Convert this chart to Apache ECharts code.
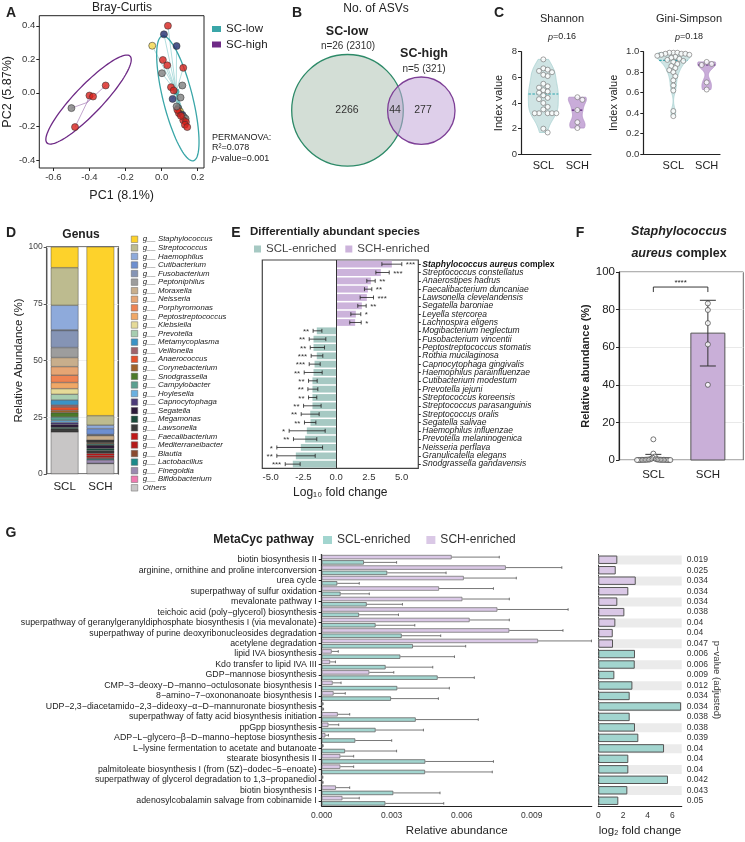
<!DOCTYPE html>
<html>
<head>
<meta charset="utf-8">
<script src="https://cdn.jsdelivr.net/npm/echarts@6.0.0/dist/echarts.min.js"></script>
<style>html,body{margin:0;padding:0;background:#fff}#chart{width:745px;height:842px}</style>
</head>
<body>
<div id="chart"></div>
<script>
// ---------- A: PCoA, Bray-Curtis ----------
var lowPC1 = [0.035,0.013,-0.052,0.083,0.007,0.031,0.120,0.002,0.052,0.067,0.115,0.061,0.105,0.092,0.102,0.096,0.115,0.124,0.133,0.120,0.135,0.129,0.142,0.087,0.107,0.083];
var lowPC2 = [0.400,0.349,0.281,0.279,0.196,0.164,0.149,0.117,0.034,0.014,0.044,-0.036,-0.028,-0.091,-0.111,-0.121,-0.131,-0.145,-0.154,-0.164,-0.174,-0.190,-0.204,-0.101,-0.137,-0.081];
var lowSite = ['r','n','y','n','r','r','r','g','r','r','g','n','g','g','y','r','n','g','g','r','r','r','r','r','r','g'];
var highPC1 = [-0.31,-0.40,-0.38,-0.50,-0.48];
var highPC2 = [0.044,-0.016,-0.022,-0.091,-0.204];
var highSite = ['r','r','r','g','r'];
var ellipseLow = {cx:0.09, cy:-0.033, ux:-0.086, uy:0.372, vx:0.08, vy:0.019};
var ellipseHigh = {cx:-0.405, cy:-0.04, ux:0.229, uy:0.26, vx:0.06, vy:-0.053};

// ---------- B: Venn ----------
var vennLowOnly = 2266, vennShared = 44, vennHighOnly = 277;
var nLow = 26, nHigh = 5;

// ---------- C: alpha diversity ----------
var shannonSCL = [7.4,6.7,6.6,6.5,6.4,6.2,6.1,5.5,5.3,5.2,5.0,4.9,4.8,4.6,4.4,4.3,4.0,3.7,3.5,3.2,3.2,3.2,3.2,3.2,2.0,1.7];
var shannonSCH = [4.45,4.25,3.45,2.5,2.05];
var giniSCL = [0.99,0.99,0.99,0.98,0.98,0.98,0.97,0.97,0.96,0.95,0.94,0.93,0.92,0.91,0.90,0.88,0.86,0.84,0.82,0.80,0.76,0.72,0.67,0.62,0.42,0.37];
var giniSCH = [0.90,0.88,0.87,0.70,0.63];

// ---------- D: genus composition ----------
var genusNames = ['g__ Staphylococcus','g__ Streptococcus','g__ Haemophilus','g__ Cutibacterium','g__ Fusobacterium','g__ Peptoniphilus','g__ Moraxella','g__ Neisseria','g__ Porphyromonas','g__ Peptostreptococcus','g__ Klebsiella','g__ Prevotella','g__ Metamycoplasma','g__ Veillonella','g__ Anaerococcus','g__ Corynebacterium','g__ Snodgrassella','g__ Campylobacter','g__ Hoylesella','g__ Capnocytophaga','g__ Segatella','g__ Megamonas','g__ Lawsonella','g__ Faecalibacterium','g__ Mediterraneibacter','g__ Blautia','g__ Lactobacillus','g__ Finegoldia','g__ Bifidobacterium','Others'];
var genusSCL = [9.1,16.6,10.8,0.3,7.5,4.4,4.0,3.8,3.2,2.7,2.5,2.5,2.2,0.9,1.5,1.0,1.9,1.5,0.9,0.9,1.2,0.7,0.7,0.1,0.1,0.1,0.1,0.1,0.1,18.6];
var genusSCH = [74.4,4.2,1.5,2.6,0.2,0.3,2.0,0.1,0.1,0.1,0.1,0.1,0.1,0.3,0.1,0.5,0.1,0.6,0.1,0.1,1.2,1.0,1.2,1.0,1.0,0.4,0.5,1.5,0.1,4.6];
var genusColors = ['#fdd22b','#bdbb8f','#8eaadb','#6d8fd0','#8594b5','#9d9d9d','#c8ae8c','#e6a574','#ee8352','#f0a766','#e5da98','#a7cdb0','#3a93c6','#a0636b','#e5512b','#a0622a','#4c7a2a','#5aa090','#6ab0e0','#4b3a78','#2d1a3a','#1a4a3a','#3a3a3a','#c01818','#b51a1a','#8a4a30','#1a8a8a','#9a8ab0','#f07ab0','#c8c6c6'];

// ---------- E: differentially abundant species ----------
var species = ['Staphylococcus aureus complex','Streptococcus constellatus','Anaerostipes hadrus','Faecalibacterium duncaniae','Lawsonella clevelandensis','Segatella baroniae','Leyella stercorea','Lachnospira eligens','Mogibacterium neglectum','Fusobacterium vincentii','Peptostreptococcus stomatis','Rothia mucilaginosa','Capnocytophaga gingivalis','Haemophilus parainfluenzae','Cutibacterium modestum','Prevotella jejuni','Streptococcus koreensis','Streptococcus parasanguinis','Streptococcus oralis','Segatella salivae','Haemophilus influenzae','Prevotella melaninogenica','Neisseria perflava','Granulicatella elegans','Snodgrassella gandavensis'];
var speciesLfc = [4.25,3.41,2.65,2.42,2.34,1.96,1.50,1.45,-1.48,-1.73,-1.73,-1.48,-1.65,-1.73,-1.81,-1.81,-1.81,-1.81,-1.98,-1.96,-2.24,-2.37,-2.70,-3.08,-3.31];
var speciesLo = [3.49,3.03,2.34,2.16,1.83,1.65,1.12,1.04,-1.76,-2.06,-1.98,-1.91,-2.06,-2.44,-2.11,-2.16,-2.11,-2.49,-2.67,-2.42,-3.59,-3.26,-4.53,-4.53,-3.89];
var speciesHi = [5.01,4.05,2.98,2.72,2.85,2.29,1.88,1.91,-1.09,-0.79,-0.89,-1.02,-1.22,-1.07,-1.45,-1.40,-1.48,-1.15,-1.30,-1.55,-0.84,-1.48,-1.04,-1.60,-2.75];
var speciesStars = ['***','***','**','**','***','**','*','*','**','**','**','***','***','**','**','**','**','**','**','**','*','**','*','**','***'];

// ---------- F: S. aureus complex abundance ----------
var staphSCL = [11,3.4,1.8,1.2,0.6,0.4,0.3,0.3,0.2,0.2,0.2,0.1,0.1,0.1,0.1,0.1,0.05,0.05,0.05,0.05,0,0,0,0,0,0];
var staphSCH = [83.3,79.8,72.8,61.5,40.0];
var staphSig = '****';

// ---------- G: MetaCyc pathways ----------
var pathways = ['biotin biosynthesis II','arginine, ornithine and proline interconversion','urea cycle','superpathway of sulfur oxidation','mevalonate pathway I','teichoic acid (poly\u2212glycerol) biosynthesis','superpathway of geranylgeranyldiphosphate biosynthesis I (via mevalonate)','superpathway of purine deoxyribonucleosides degradation','acetylene degradation','lipid IVA biosynthesis','Kdo transfer to lipid IVA III','GDP\u2212mannose biosynthesis','CMP\u22123\u2212deoxy\u2212D\u2212manno\u2212octulosonate biosynthesis I','8\u2212amino\u22127\u2212oxononanoate biosynthesis I','UDP\u22122,3\u2212diacetamido\u22122,3\u2212dideoxy\u2212\u03b1\u2212D\u2212mannuronate biosynthesis','superpathway of fatty acid biosynthesis initiation','ppGpp biosynthesis','ADP\u2212L\u2212glycero\u2212\u03b2\u2212D\u2212manno\u2212heptose biosynthesis','L\u2212lysine fermentation to acetate and butanoate','stearate biosynthesis II','palmitoleate biosynthesis I (from (5Z)\u2212dodec\u22125\u2212enoate)','superpathway of glycerol degradation to 1,3\u2212propanediol','biotin biosynthesis I','adenosylcobalamin salvage from cobinamide I'];
var pathSCHMean = [0.00557,0.00789,0.00609,0.00503,0.00603,0.00753,0.00634,0.00804,0.00927,0.00043,0.00036,0.00204,0.00047,0.00051,0.00003,0.00069,0.00029,0.00016,0.00004,0.00080,0.00080,0.00002,0.00061,0.00089];
var pathSCHSd = [0.00204,0.0024,0.00225,0.00233,0.00201,0.00303,0.0017,0.0023,0.00229,0.00028,0.00023,0.00105,0.00036,0.0005,0.00003,0.00051,0.00044,0.00013,0.00002,0.00057,0.00057,0.00003,0.00059,0.00072];
var pathSCLMean = [0.00181,0.00281,0.00067,0.00081,0.00193,0.0016,0.00231,0.00343,0.00391,0.00337,0.00274,0.00497,0.00324,0.00297,0.00002,0.00403,0.00231,0.00144,0.001,0.00444,0.00443,0.00002,0.00307,0.00273];
var pathSCLSd = [0.0014,0.00252,0.00094,0.00123,0.00153,0.00169,0.00168,0.00167,0.00226,0.00232,0.00202,0.00157,0.00223,0.00203,0.00006,0.00268,0.00205,0.00156,0.00221,0.00292,0.00288,0.00004,0.002,0.0025];
var pathLog2FC = [1.54,1.41,3.03,2.43,1.54,2.11,1.38,1.17,1.19,2.97,2.95,1.30,2.76,2.54,6.70,2.54,2.97,3.24,5.32,2.43,2.43,5.64,2.35,1.62];
var pathPadj = ['0.019','0.025','0.034','0.034','0.034','0.038','0.04','0.04','0.047','0.006','0.006','0.009','0.012','0.034','0.034','0.038','0.038','0.039','0.04','0.04','0.04','0.042','0.043','0.05'];
var pathEnriched = ['SCH','SCH','SCH','SCH','SCH','SCH','SCH','SCH','SCH','SCL','SCL','SCL','SCL','SCL','SCL','SCL','SCL','SCL','SCL','SCL','SCL','SCL','SCL','SCL'];

// ---------- styling ----------
var FONT = '"Liberation Sans", Arial, Helvetica, sans-serif';
var siteColor = {r:'#d9201c', n:'#222d6e', y:'#f4d64a', g:'#7f7f7f'};
var TEAL = '#3aa6a8', PURPLE = '#6e2a86';
var eTeal = '#a6c9c3', ePurple = '#ccb3db';
var gTeal = '#a2d5cf', gPurple = '#dac8e6';

var chart = echarts.init(document.getElementById('chart'), null, {renderer: 'canvas'});

// helpers
function mean(a){ return a.reduce(function(s,v){return s+v;},0)/a.length; }
function sd(a){ var m=mean(a); return Math.sqrt(a.reduce(function(s,v){return s+(v-m)*(v-m);},0)/(a.length-1)); }
function quantile(a,q){ var s=a.slice().sort(function(x,y){return x-y;}); var h=(s.length-1)*q, lo=Math.floor(h); return s[lo]+(h-lo)*((s[Math.min(lo+1,s.length-1)])-s[lo]); }
function kde(vals, adjust){
  var n = vals.length, iqr = quantile(vals,0.75)-quantile(vals,0.25);
  var spread = iqr > 0 ? Math.min(sd(vals), iqr/1.34) : sd(vals);
  var bw = adjust*0.9*spread*Math.pow(n,-0.2);
  var lo = Math.min.apply(null, vals), hi = Math.max.apply(null, vals), out = [], mx = 0;
  for (var k=0;k<=80;k++){
    var y = lo+(hi-lo)*k/80, d = 0;
    vals.forEach(function(v){ var z=(y-v)/bw; d += Math.exp(-0.5*z*z); });
    out.push([y,d]); if (d>mx) mx=d;
  }
  return out.map(function(p){ return [p[0], p[1]/mx]; });
}
function densAt(den, y){
  for (var k=1;k<den.length;k++){ if (den[k][0] >= y){ var t=(y-den[k-1][0])/(den[k][0]-den[k-1][0]); return den[k-1][1]+t*(den[k][1]-den[k-1][1]); } }
  return den[den.length-1][1];
}
function swarm(vals, yScale, diam, maxOff){
  var order = vals.map(function(v,i){return i;}).sort(function(a,b){return vals[b]-vals[a];});
  var placed = [], off = [];
  order.forEach(function(i){
    var y = vals[i]*yScale;
    for (var k=0;k<400;k++){
      var dx = (k%2===1 ? 1 : -1)*Math.ceil(k/2)*diam*0.5;
      var ok = placed.every(function(p){ var a=p[0]-dx, b=p[1]-y; return a*a+b*b >= diam*diam*0.9; });
      if (ok){ off[i]=dx; placed.push([dx,y]); break; }
    }
  });
  var m = Math.max.apply(null, off.map(Math.abs));
  if (m > maxOff) off = off.map(function(o){ return o*maxOff/m; });
  return off;
}
function txt(x, y, s, o){
  o = o || {};
  return {type:'text', x:x, y:y, rotation:o.rotation||0, silent:true, z:100, style:{
    text:s, fontFamily:FONT, fontSize:o.size||10, fontWeight:o.weight||'normal', fontStyle:o.italic?'italic':'normal',
    fill:o.color||'#222', textAlign:o.align||'center', textVerticalAlign:o.valign||'middle', lineHeight:o.lh, rich:o.rich}};
}
function mean2(a){ return [mean(a), sd(a)]; }

// ---------- grids ----------
var grids = [
  {left:39.3, top:15.7, width:164.7, height:152.3, show:true, borderColor:'#222', borderWidth:1},   // A
  {left:521, top:51.7, width:70, height:102.6},                                                      // C Shannon
  {left:643.3, top:51.7, width:76.7, height:102.3},                                                  // C Gini
  {left:46.7, top:247, width:71.6, height:227, show:true, borderColor:'#555', borderWidth:1.5},      // D
  {left:262.3, top:260, width:156, height:208.3, show:true, borderColor:'#444', borderWidth:1.2},    // E
  {left:619, top:272, width:124.3, height:188, show:true, borderColor:'#666', borderWidth:1},        // F
  {left:321.7, top:554.5, width:270, height:251.5},                                                  // G abundance
  {left:598.3, top:554.5, width:83.4, height:251.5}                                                  // G log2FC
];
grids.forEach(function(g){ g.outerBoundsMode = 'none'; g.containLabel = false; });

function tickVals(a,b,s){ var r=[]; for (var v=a; v<=b+1e-9; v+=s) r.push(+v.toFixed(6)); return r; }

// violin data
var shanScaleY = 102.6/8, shanScaleX = 70/(1.40+0.656);
var giniScaleY = 102.3/1, giniScaleX = 76.7/(1.4+0.9);
var fScaleY = 188/100, fScaleX = 124.3/(1.65+0.63);
var violinHalfPx = [[15, 9], [17, 9]];
var shanDen = [kde(shannonSCL,1.0), kde(shannonSCH,0.6)];
var giniDen = [kde(giniSCL,0.8), kde(giniSCH,0.6)];
var shanMed = [quantile(shannonSCL,0.5), quantile(shannonSCH,0.5)];
var giniMed = [quantile(giniSCL,0.5), quantile(giniSCH,0.5)];
var violinFill = [['#cfe4e4','#a9d2d2'],['#c9acd9','#b292c6']];
var medColor = ['#2aa3ad', '#5b2378'];

function violinSeries(den, med, xi, halfPx){
  return {type:'custom', xAxisIndex:xi, yAxisIndex:xi, z:2, silent:true,
    data:[[0, med[0]],[1, med[1]]], encode:{x:0, y:1},
    renderItem:function(params, api){
      var g = params.dataIndex, d = den[g], w = halfPx[g], right = [], left = [];
      d.forEach(function(p){ var c = api.coord([g, p[0]]); right.push([c[0]+p[1]*w, c[1]]); left.unshift([c[0]-p[1]*w, c[1]]); });
      var cm = api.coord([g, med[g]]), wm = densAt(d, med[g])*w;
      return {type:'group', children:[
        {type:'polygon', shape:{points:right.concat(left)}, style:{fill:violinFill[g][0], stroke:violinFill[g][1], lineWidth:0.8}},
        {type:'line', shape:{x1:cm[0]-wm, y1:cm[1], x2:cm[0]+wm, y2:cm[1]}, style:{stroke:medColor[g], lineWidth:1.2, lineDash:[2.5,1.5]}}
      ]};
    }};
}
function swarmData(groups, yScale, xScale, maxPx){
  var out = [];
  groups.forEach(function(vals, g){
    var off = swarm(vals, yScale, 5, maxPx[g]);
    vals.forEach(function(v,i){ out.push([g + off[i]/xScale, v]); });
  });
  return out;
}
var ptStyle = {color:'#fff', borderColor:'#707070', borderWidth:0.8};

// ---------- A series ----------
function centroid(xs, ys){ return [mean(xs), mean(ys)]; }
var cLow = centroid(lowPC1, lowPC2), cHigh = centroid(highPC1, highPC2);
function ellipseRender(e, color){
  return function(params, api){
    var pts = [];
    for (var k=0;k<=96;k++){ var t=k/96*2*Math.PI;
      pts.push(api.coord([e.cx+e.ux*Math.cos(t)+e.vx*Math.sin(t), e.cy+e.uy*Math.cos(t)+e.vy*Math.sin(t)])); }
    return {type:'polyline', shape:{points:pts}, style:{stroke:color, lineWidth:1.3, fill:null}};
  };
}
var seriesA = [
  {type:'lines', coordinateSystem:'cartesian2d', xAxisIndex:0, yAxisIndex:0, silent:true, z:2, symbol:'none',
    data: lowPC1.map(function(x,i){ return {coords:[[x, lowPC2[i]], cLow]}; }),
    lineStyle:{color:'#6fc0c0', width:0.6, opacity:0.9}},
  {type:'lines', coordinateSystem:'cartesian2d', xAxisIndex:0, yAxisIndex:0, silent:true, z:2, symbol:'none',
    data: highPC1.map(function(x,i){ return {coords:[[x, highPC2[i]], cHigh]}; }),
    lineStyle:{color:'#9d6fb0', width:0.7, opacity:0.9}},
  {type:'custom', name:'SC-low', xAxisIndex:0, yAxisIndex:0, z:3, silent:true, itemStyle:{color:TEAL},
    data:[[ellipseLow.cx, ellipseLow.cy]], encode:{x:0,y:1}, renderItem: ellipseRender(ellipseLow, TEAL)},
  {type:'custom', name:'SC-high', xAxisIndex:0, yAxisIndex:0, z:3, silent:true, itemStyle:{color:PURPLE},
    data:[[ellipseHigh.cx, ellipseHigh.cy]], encode:{x:0,y:1}, renderItem: ellipseRender(ellipseHigh, PURPLE)},
  {type:'scatter', xAxisIndex:0, yAxisIndex:0, z:4, symbolSize:6, silent:true,
    data:[cLow], itemStyle:{color:TEAL, borderColor:'#2a8a8a', borderWidth:0.5}},
  {type:'scatter', xAxisIndex:0, yAxisIndex:0, z:5, symbolSize:7, silent:true,
    data: lowPC1.map(function(x,i){ return {value:[x, lowPC2[i]], itemStyle:{color:siteColor[lowSite[i]]}}; })
      .concat(highPC1.map(function(x,i){ return {value:[x, highPC2[i]], itemStyle:{color:siteColor[highSite[i]]}}; })),
    itemStyle:{borderColor:'#333', borderWidth:0.7}}
];

// ---------- C series ----------
var seriesC = [
  violinSeries(shanDen, shanMed, 1, violinHalfPx[0]),
  {type:'scatter', xAxisIndex:1, yAxisIndex:1, z:4, symbolSize:5, silent:true, itemStyle:ptStyle,
    data: swarmData([shannonSCL, shannonSCH], shanScaleY, shanScaleX, [13, 7])},
  violinSeries(giniDen, giniMed, 2, violinHalfPx[1]),
  {type:'scatter', xAxisIndex:2, yAxisIndex:2, z:4, symbolSize:5, silent:true, itemStyle:ptStyle,
    data: swarmData([giniSCL, giniSCH], giniScaleY, giniScaleX, [16, 7])}
];

// ---------- D series (stack bottom = Others) ----------
var seriesD = [];
for (var gi = genusNames.length-1; gi >= 0; gi--){
  seriesD.push({type:'bar', name:genusNames[gi], stack:'genus', xAxisIndex:3, yAxisIndex:3, barWidth:27.6, silent:true,
    data:[genusSCL[gi], genusSCH[gi]], itemStyle:{color:genusColors[gi], borderColor:'#333', borderWidth:0.4}});
}

// ---------- E series ----------
var seriesE = [
  {type:'bar', name:'SCL-enriched', xAxisIndex:4, yAxisIndex:4, barWidth:6.8, barGap:'-100%', silent:true,
    data: speciesLfc.map(function(v){ return v<0 ? v : '-'; }), itemStyle:{color:eTeal}},
  {type:'bar', name:'SCH-enriched', xAxisIndex:4, yAxisIndex:4, barWidth:6.8, barGap:'-100%', silent:true,
    data: speciesLfc.map(function(v){ return v>0 ? v : '-'; }), itemStyle:{color:ePurple},
    markLine:{silent:true, symbol:'none', label:{show:false}, lineStyle:{color:'#333', width:1, type:'solid'}, data:[{xAxis:0}]}},
  {type:'custom', xAxisIndex:4, yAxisIndex:4, z:5, silent:true,
    data: speciesLo.map(function(lo,i){ return [lo, speciesHi[i], i]; }), encode:{x:[0,1], y:2},
    renderItem:function(params, api){
      var i = api.value(2), a = api.coord([api.value(0), i]), b = api.coord([api.value(1), i]), cap = 2, pos = speciesLfc[i] > 0;
      var st = {stroke:'#222', lineWidth:0.8};
      return {type:'group', children:[
        {type:'line', shape:{x1:a[0], y1:a[1], x2:b[0], y2:b[1]}, style:st},
        {type:'line', shape:{x1:a[0], y1:a[1]-cap, x2:a[0], y2:a[1]+cap}, style:st},
        {type:'line', shape:{x1:b[0], y1:b[1]-cap, x2:b[0], y2:b[1]+cap}, style:st},
        {type:'text', x: pos ? b[0]+4 : a[0]-4, y:a[1]+1, style:{text:speciesStars[i], fontFamily:FONT, fontSize:8, fill:'#333', textAlign: pos?'left':'right', textVerticalAlign:'middle'}}
      ]};
    }}
];

// ---------- F series ----------
var fStats = [mean2(staphSCL), mean2(staphSCH)];
var fBracketY = 92;
var seriesF = [
  {type:'custom', xAxisIndex:5, yAxisIndex:5, z:2, silent:true,
    data: fStats.map(function(s,g){ return [g, s[0], Math.max(0, s[0]-s[1]), s[0]+s[1]]; }), encode:{x:0, y:[1,2,3]},
    renderItem:function(params, api){
      var g = api.value(0), c0 = api.coord([g, 0]), c1 = api.coord([g, api.value(1)]);
      var lo = api.coord([g, api.value(2)]), hi = api.coord([g, api.value(3)]), cap = 8, bw = 17;
      var st = {stroke:'#333', lineWidth:1};
      return {type:'group', children:[
        {type:'rect', shape:{x:c0[0]-bw, y:c1[1], width:2*bw, height:c0[1]-c1[1]}, style:{fill:'#c9afd8', stroke:'#555', lineWidth:1}},
        {type:'line', shape:{x1:lo[0], y1:lo[1], x2:hi[0], y2:hi[1]}, style:st},
        {type:'line', shape:{x1:hi[0]-cap, y1:hi[1], x2:hi[0]+cap, y2:hi[1]}, style:st},
        {type:'line', shape:{x1:lo[0]-cap, y1:lo[1], x2:lo[0]+cap, y2:lo[1]}, style:st}
      ]};
    }},
  {type:'scatter', xAxisIndex:5, yAxisIndex:5, z:4, symbolSize:5, silent:true, itemStyle:{color:'#fff', borderColor:'#444', borderWidth:0.9},
    data: swarmData([staphSCL, staphSCH], fScaleY, fScaleX, [17, 17])},
  {type:'custom', xAxisIndex:5, yAxisIndex:5, z:5, silent:true, data:[[0, 1, fBracketY]], encode:{x:[0,1], y:2},
    renderItem:function(params, api){
      var a = api.coord([0, fBracketY]), b = api.coord([1, fBracketY]), drop = 5;
      return {type:'group', children:[
        {type:'polyline', shape:{points:[[a[0], a[1]+drop],[a[0], a[1]],[b[0], b[1]],[b[0], b[1]+drop]]}, style:{stroke:'#222', lineWidth:0.9, fill:null}},
        {type:'text', x:(a[0]+b[0])/2, y:a[1]-4, style:{text:staphSig, fontFamily:FONT, fontSize:8, fill:'#222', textAlign:'center', textVerticalAlign:'middle'}}
      ]};
    }}
];

// ---------- G series ----------
var gBarW = 4.4, gOff = 2.64;
function gErr(means, sds, dy){
  return {type:'custom', xAxisIndex:6, yAxisIndex:6, z:5, silent:true,
    data: means.map(function(m,i){ return [m, m+sds[i], i]; }), encode:{x:[0,1], y:2},
    renderItem:function(params, api){
      var i = api.value(2), a = api.coord([api.value(0), i]), b = api.coord([api.value(1), i]);
      var y = a[1]+dy, st = {stroke:'#555', lineWidth:0.8};
      return {type:'group', children:[
        {type:'line', shape:{x1:a[0], y1:y, x2:b[0], y2:y}, style:st},
        {type:'line', shape:{x1:b[0], y1:y-1.3, x2:b[0], y2:y+1.3}, style:st}
      ]};
    }};
}
var seriesG = [
  {type:'bar', name:'SCH-enriched', xAxisIndex:6, yAxisIndex:6, barWidth:gBarW, barGap:'20%', silent:true,
    data: pathSCHMean, itemStyle:{color:gPurple, borderColor:'#777', borderWidth:0.8}},
  {type:'bar', name:'SCL-enriched', xAxisIndex:6, yAxisIndex:6, barWidth:gBarW, barGap:'20%', silent:true,
    data: pathSCLMean, itemStyle:{color:gTeal, borderColor:'#666', borderWidth:0.8}},
  gErr(pathSCHMean, pathSCHSd, -gOff),
  gErr(pathSCLMean, pathSCLSd, gOff),
  {type:'bar', xAxisIndex:7, yAxisIndex:7, barWidth:9, barGap:'-100%', silent:true, z:1,
    data: pathways.map(function(p,i){ return i%2===0 ? 6.75 : '-'; }), itemStyle:{color:'#ebebeb'}},
  {type:'bar', xAxisIndex:7, yAxisIndex:7, barWidth:8.4, barGap:'-100%', silent:true, z:2,
    data: pathLog2FC.map(function(v,i){ return pathEnriched[i]==='SCH' ? v : '-'; }), itemStyle:{color:gPurple, borderColor:'#555', borderWidth:1}},
  {type:'bar', xAxisIndex:7, yAxisIndex:7, barWidth:8.4, barGap:'-100%', silent:true, z:2,
    data: pathLog2FC.map(function(v,i){ return pathEnriched[i]==='SCL' ? v : '-'; }), itemStyle:{color:gTeal, borderColor:'#555', borderWidth:1}}
];

// ---------- axes ----------
var noSplit = {show:false};
var xAxes = [
  {gridIndex:0, type:'value', min:-0.678, max:0.235, axisLine:{show:false, onZero:false}, splitLine:noSplit,
    axisTick:{customValues:[-0.6,-0.4,-0.2,0,0.2], length:3, lineStyle:{color:'#222'}},
    axisLabel:{customValues:[-0.6,-0.4,-0.2,0,0.2], formatter:function(v){return v.toFixed(1);}, fontSize:9.5, margin:4, fontFamily:FONT, color:'#333'},
    name:'PC1 (8.1%)', nameLocation:'middle', nameGap:21, nameTextStyle:{fontSize:12.5, fontFamily:FONT, color:'#222'}},
  {gridIndex:1, type:'value', min:-0.656, max:1.40, axisLine:{show:true, onZero:false, lineStyle:{color:'#222', width:1.2}}, axisTick:{show:false}, splitLine:noSplit,
    axisLabel:{customValues:[0,1], formatter:function(v){return v<0.5?'SCL':'SCH';}, fontSize:11, margin:6, fontFamily:FONT, color:'#222'}},
  {gridIndex:2, type:'value', min:-0.9, max:1.4, axisLine:{show:true, onZero:false, lineStyle:{color:'#222', width:1.2}}, axisTick:{show:false}, splitLine:noSplit,
    axisLabel:{customValues:[0,1], formatter:function(v){return v<0.5?'SCL':'SCH';}, fontSize:11, margin:6, fontFamily:FONT, color:'#222'}},
  {gridIndex:3, type:'category', data:['SCL','SCH'], axisLine:{show:false, onZero:false}, axisTick:{show:false},
    axisLabel:{fontSize:11.5, margin:7, fontFamily:FONT, color:'#222'}},
  {gridIndex:4, type:'value', min:-5.64, max:6.27, axisLine:{show:false, onZero:false}, splitLine:noSplit,
    axisTick:{customValues:[-5,-2.5,0,2.5,5], length:3, lineStyle:{color:'#333'}},
    axisLabel:{customValues:[-5,-2.5,0,2.5,5], formatter:function(v){return v.toFixed(1);}, fontSize:9.5, margin:4, fontFamily:FONT, color:'#333'},
    name:'Log\u2081\u2080 fold change', nameLocation:'middle', nameGap:18, nameTextStyle:{fontSize:12, fontFamily:FONT, color:'#222'}},
  {gridIndex:5, type:'value', min:-0.63, max:1.65, axisLine:{show:false, onZero:false}, axisTick:{show:false}, splitLine:noSplit,
    axisLabel:{customValues:[0,1], formatter:function(v){return v<0.5?'SCL':'SCH';}, fontSize:11.5, margin:9, fontFamily:FONT, color:'#222'}},
  {gridIndex:6, type:'value', min:0, max:0.01157, axisLine:{show:true, onZero:false, lineStyle:{color:'#222', width:1.2}}, splitLine:noSplit,
    axisTick:{customValues:tickVals(0,0.0105,0.0015), length:3.5, lineStyle:{color:'#222'}},
    axisLabel:{customValues:[0,0.003,0.006,0.009], formatter:function(v){return v.toFixed(3);}, fontSize:8.5, margin:5, fontFamily:FONT, color:'#333'},
    name:'Relative abundance', nameLocation:'middle', nameGap:19, nameTextStyle:{fontSize:11.5, fontFamily:FONT, color:'#222'}},
  {gridIndex:7, type:'value', min:0, max:6.75, axisLine:{show:true, onZero:false, lineStyle:{color:'#222', width:1.2}}, splitLine:noSplit,
    axisTick:{customValues:[0,1,2,3,4,5,6], length:3.5, lineStyle:{color:'#222'}},
    axisLabel:{customValues:[0,2,4,6], fontSize:8.5, margin:5, fontFamily:FONT, color:'#333'},
    name:'log\u2082 fold change', nameLocation:'middle', nameGap:19, nameTextStyle:{fontSize:11.5, fontFamily:FONT, color:'#222'}}
];
var yAxes = [
  {gridIndex:0, type:'value', min:-0.448, max:0.46, axisLine:{show:false, onZero:false}, splitLine:noSplit,
    axisTick:{customValues:[-0.4,-0.2,0,0.2,0.4], length:3, lineStyle:{color:'#222'}},
    axisLabel:{customValues:[-0.4,-0.2,0,0.2,0.4], formatter:function(v){return v.toFixed(1);}, fontSize:9.5, margin:4, fontFamily:FONT, color:'#333'},
    name:'PC2 (5.87%)', nameLocation:'middle', nameGap:25, nameTextStyle:{fontSize:12.5, fontFamily:FONT, color:'#222'}},
  {gridIndex:1, type:'value', min:0, max:8, interval:2, axisLine:{show:true, onZero:false, lineStyle:{color:'#222', width:1.2}}, splitLine:noSplit,
    axisTick:{show:true, length:3, lineStyle:{color:'#222'}}, axisLabel:{fontSize:9.5, margin:4, fontFamily:FONT, color:'#333'},
    name:'Index value', nameLocation:'middle', nameGap:17, nameTextStyle:{fontSize:11, fontFamily:FONT, color:'#222'}},
  {gridIndex:2, type:'value', min:0, max:1, interval:0.2, axisLine:{show:true, onZero:false, lineStyle:{color:'#222', width:1.2}}, splitLine:noSplit,
    axisTick:{show:true, length:3, lineStyle:{color:'#222'}}, axisLabel:{fontSize:9.5, margin:4, fontFamily:FONT, color:'#333', formatter:function(v){return v.toFixed(1);}},
    name:'Index value', nameLocation:'middle', nameGap:24, nameTextStyle:{fontSize:11, fontFamily:FONT, color:'#222'}},
  {gridIndex:3, type:'value', min:0, max:100, interval:25, axisLine:{show:false, onZero:false}, splitLine:{show:true, lineStyle:{color:'#efefef'}},
    axisTick:{show:true, length:3, lineStyle:{color:'#555'}}, axisLabel:{fontSize:8.5, margin:4, fontFamily:FONT, color:'#444'},
    name:'Relative Abundance (%)', nameLocation:'middle', nameGap:22, nameTextStyle:{fontSize:11.5, fontFamily:FONT, color:'#222'}},
  {gridIndex:4, type:'category', data:species, inverse:true, position:'right', axisLine:{show:false, onZero:false},
    axisTick:{show:true, length:2.5, alignWithLabel:true, lineStyle:{color:'#333'}},
    axisLabel:{interval:0, fontSize:8.5, fontStyle:'italic', margin:4, fontFamily:FONT, color:'#222',
      formatter:function(v, i){ return i===0 ? '{b|Staphylococcus aureus} {c|complex}' : v; },
      rich:{b:{fontWeight:'bold', fontStyle:'italic', fontSize:8.5, fontFamily:FONT, color:'#111'}, c:{fontWeight:'bold', fontStyle:'normal', fontSize:8.5, fontFamily:FONT, color:'#111'}}}},
  {gridIndex:5, type:'value', min:0, max:100, interval:20, axisLine:{show:true, onZero:false, lineStyle:{color:'#222', width:1.2}},
    splitLine:{show:true, lineStyle:{color:'#e9e9e9'}}, axisTick:{show:true, length:3, lineStyle:{color:'#222'}},
    axisLabel:{fontSize:11.5, margin:4, fontFamily:FONT, color:'#222'},
    name:'Relative abundance (%)', nameLocation:'middle', nameGap:27, nameTextStyle:{fontSize:11, fontWeight:'bold', fontFamily:FONT, color:'#222'}},
  {gridIndex:6, type:'category', data:pathways, inverse:true, axisLine:{show:true, onZero:false, lineStyle:{color:'#222', width:1.2}},
    axisTick:{show:true, length:3, alignWithLabel:true, lineStyle:{color:'#222'}},
    axisLabel:{interval:0, fontSize:8.8, margin:5, fontFamily:FONT, color:'#222'}},
  {gridIndex:7, type:'category', data:pathways, inverse:true, axisLine:{show:true, onZero:false, lineStyle:{color:'#333', width:1, type:[2,1.5]}},
    axisTick:{show:false}, axisLabel:{show:false}},
  {gridIndex:7, type:'category', data:pathways, inverse:true, position:'right', axisLine:{show:false, onZero:false}, axisTick:{show:false},
    axisLabel:{interval:0, fontSize:8.5, margin:5, fontFamily:FONT, color:'#333', formatter:function(v,i){ return pathPadj[i]; }}}
];

// ---------- legends ----------
var legTxt = function(sz, italic, col){ return {fontSize:sz, fontFamily:FONT, color:col||'#222', fontStyle:italic?'italic':'normal'}; };
var legends = [
  {left:212, top:23, orient:'vertical', itemWidth:9, itemHeight:6, itemGap:3.5, selectedMode:false, padding:0, textStyle:legTxt(11.5),
    data:[{name:'SC-low', icon:'rect', itemStyle:{color:TEAL}}, {name:'SC-high', icon:'rect', itemStyle:{color:PURPLE}}]},
  {left:131, top:235, orient:'vertical', itemWidth:6.5, itemHeight:6.5, itemGap:0, selectedMode:false, padding:0,
    itemStyle:{borderColor:'#666', borderWidth:0.5},
    textStyle:{fontSize:7.8, lineHeight:8.57, fontFamily:FONT, color:'#222', fontStyle:'italic'},
    data: genusNames.map(function(n, i){ return {name:n, icon:'rect', itemStyle:{color:genusColors[i], borderColor:'#666', borderWidth:0.5}}; })},
  {left:254, top:243, orient:'horizontal', itemWidth:7, itemHeight:7, itemGap:9, selectedMode:false, padding:0, textStyle:legTxt(11.5,false,'#444'),
    data:[{name:'SCL-enriched', icon:'rect', itemStyle:{color:eTeal}}, {name:'SCH-enriched', icon:'rect', itemStyle:{color:ePurple}}]},
  {left:323, top:534, orient:'horizontal', itemWidth:9, itemHeight:8, itemGap:16, selectedMode:false, padding:0, textStyle:legTxt(12,false,'#333'),
    data:[{name:'SCL-enriched', icon:'rect', itemStyle:{color:gTeal}}, {name:'SCH-enriched', icon:'rect', itemStyle:{color:gPurple}}]}
];

// ---------- annotations ----------
var ital = {i:{fontStyle:'italic', fontFamily:FONT, fontSize:9}};
var graphic = [
  txt(11, 13, 'A', {size:14, weight:'bold'}), txt(297, 13, 'B', {size:14, weight:'bold'}), txt(499, 13, 'C', {size:14, weight:'bold'}),
  txt(11, 233, 'D', {size:14, weight:'bold'}), txt(236, 233, 'E', {size:14, weight:'bold'}), txt(580, 233, 'F', {size:14, weight:'bold'}),
  txt(11, 533, 'G', {size:14, weight:'bold'}),
  txt(122, 8, 'Bray-Curtis', {size:12}),
  txt(212, 148, 'PERMANOVA:\nR\u00b2=0.078\n{i|p}-value=0.001', {size:9, align:'left', lh:10.5, rich:ital}),
  txt(376, 9, 'No. of ASVs', {size:12}),
  {type:'circle', silent:true, shape:{cx:347.5, cy:110.3, r:55.8}, style:{fill:'#d3ded6', stroke:'#2d8a68', lineWidth:1.3}},
  {type:'circle', silent:true, shape:{cx:421.3, cy:110.7, r:33.7}, style:{fill:'rgb(195,168,217)', opacity:0.55}},
  {type:'circle', silent:true, shape:{cx:421.3, cy:110.7, r:33.7}, style:{fill:null, stroke:'#7d3f96', lineWidth:1.3}},
  txt(347, 32, 'SC-low', {size:12.5, weight:'bold'}), txt(348, 46, 'n=' + nLow + ' (' + (vennLowOnly+vennShared) + ')', {size:10, color:'#333'}),
  txt(424, 54, 'SC-high', {size:12.5, weight:'bold'}), txt(424, 69, 'n=' + nHigh + ' (' + (vennHighOnly+vennShared) + ')', {size:10, color:'#333'}),
  txt(347, 110, String(vennLowOnly), {size:10.5, color:'#333'}), txt(395, 110, String(vennShared), {size:10.5, color:'#333'}), txt(423, 110, String(vennHighOnly), {size:10.5, color:'#333'}),
  txt(562, 19, 'Shannon', {size:11}), txt(562, 37, '{i|p}=0.16', {size:9, rich:ital}),
  txt(689, 19, 'Gini-Simpson', {size:11}), txt(689, 37, '{i|p}=0.18', {size:9, rich:ital}),
  txt(81, 235, 'Genus', {size:12, weight:'bold'}),
  txt(250, 232, 'Differentially abundant species', {size:11.5, weight:'bold', align:'left'}),
  txt(679, 232, 'Staphylococcus', {size:12.5, weight:'bold', italic:true}),
  txt(679, 254, '{a|aureus} complex', {size:12.5, weight:'bold', rich:{a:{fontStyle:'italic', fontWeight:'bold', fontSize:12.5, fontFamily:FONT}}}),
  txt(314, 540, 'MetaCyc pathway', {size:12, weight:'bold', align:'right'}),
  txt(717, 680, 'p\u2212value (adjusted)', {size:9.5, rotation:-Math.PI/2, color:'#333'})
];

var option = {
  animation:false,
  textStyle:{fontFamily:FONT},
  grid:grids, xAxis:xAxes, yAxis:yAxes, legend:legends,
  series: seriesA.concat(seriesC, seriesD, seriesE, seriesF, seriesG),
  graphic: graphic
};
chart.setOption(option);
</script>
</body>
</html>
